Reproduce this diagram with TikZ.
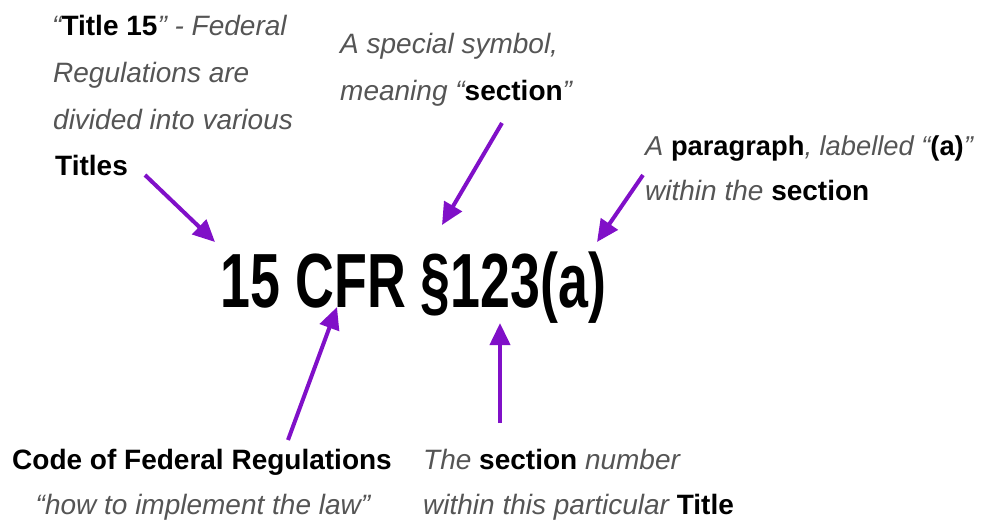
\documentclass[tikz,border=0pt]{standalone}
\usepackage{fontspec}
\setmainfont{Liberation Sans}
\newfontfamily\hepfont[FakeStretch=0.70]{Liberation Sans}
\usepackage{xcolor}
\usepackage{tikz}
\usetikzlibrary{arrows.meta}
\definecolor{tim}{RGB}{128,16,200}
\definecolor{chuxam}{RGB}{85,85,85}
\newcommand{\dam}[1]{{\upshape\bfseries\color{black}#1}}

\begin{document}
\begin{tikzpicture}[>={Triangle[length=22pt, width=20pt]}, x=1pt, y=-1pt,
    ghichu/.style={anchor=base west, inner sep=0pt, text=chuxam,
        font=\fontsize{28}{34}\selectfont\itshape},
    muiten/.style={->, draw=tim, fill=tim, line width=4pt}]
    \useasboundingbox (0,0) rectangle (982,531);

    % 1. Dòng trích dẫn chính
    \node[anchor=base, inner sep=0pt,
        font=\hepfont\bfseries\fontsize{76.8}{80}\selectfont] (trichdan)
        at (413.5,307) {15 CFR §123(a)};

    % 2. Ghi chú "Title 15"
    \node[ghichu] (tieude1) at (52,35) {``\dam{Title 15}'' - Federal};
    \node[ghichu] (tieude2) at (53,82) {Regulations are};
    \node[ghichu] (tieude3) at (53,129) {divided into various};
    \node[ghichu] (tieude4) at (55,175) {\dam{Titles}};

    % 3. Ghi chú ký hiệu §
    \node[ghichu] (kyhieu1) at (340,53) {A special symbol,};
    \node[ghichu] (kyhieu2) at (340,100) {meaning ``\dam{section}''};

    % 4. Ghi chú đoạn (a)
    \node[ghichu, font=\fontsize{27.3}{34}\selectfont\itshape] (doan1)
        at (645,155) {A \dam{paragraph}, labelled ``\dam{(a)}''};
    \node[ghichu] (doan2) at (645,200) {within the \dam{section}};

    % 5. Ghi chú phía dưới
    \node[ghichu, anchor=base] (cfr1) at (202,469) {\dam{Code of Federal Regulations}};
    \node[ghichu, anchor=base] (cfr2) at (203,514) {``how to implement the law''};
    \node[ghichu] (so1) at (423,469) {The \dam{section} number};
    \node[ghichu] (so2) at (423,514) {within this particular \dam{Title}};

    % 6. Các mũi tên
    \coordinate (tieudeDau) at (145,175);
    \coordinate (tieudeCuoi) at (215,242);
    \coordinate (kyhieuDau) at (502,123);
    \coordinate (kyhieuCuoi) at (442,225);
    \coordinate (doanDau) at (643,175);
    \coordinate (doanCuoi) at (597,242);
    \coordinate (cfrDau) at (288,440);
    \coordinate (cfrCuoi) at (337,307);
    \coordinate (soDau) at (500,423);
    \coordinate (soCuoi) at (500,323);

    \draw[muiten] (tieudeDau) -- (tieudeCuoi);
    \draw[muiten] (kyhieuDau) -- (kyhieuCuoi);
    \draw[muiten] (doanDau) -- (doanCuoi);
    \draw[muiten] (cfrDau) -- (cfrCuoi);
    \draw[muiten] (soDau) -- (soCuoi);
\end{tikzpicture}
\end{document}
